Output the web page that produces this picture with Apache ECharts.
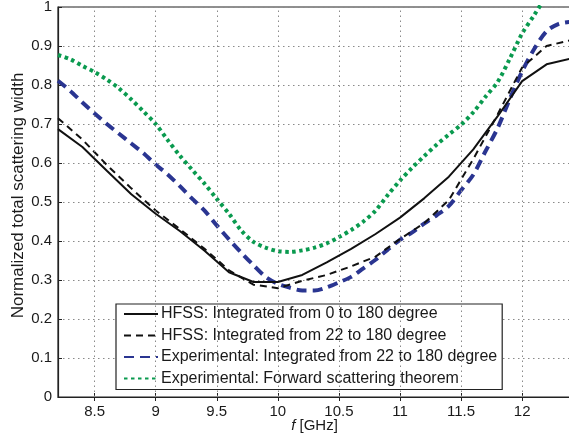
<!DOCTYPE html>
<html><head><meta charset="utf-8">
<script src="https://cdn.jsdelivr.net/npm/echarts@6/dist/echarts.min.js"></script>
<style>html,body{margin:0;padding:0;background:#fff}#c{width:569px;height:438px}</style>
</head><body><div id="c"></div>
<script>
var xTicks = [8.5, 9, 9.5, 10, 10.5, 11, 11.5, 12];
var yTicks = [0, 0.1, 0.2, 0.3, 0.4, 0.5, 0.6, 0.7, 0.8, 0.9, 1];
var seriesNames = [
  'HFSS: Integrated from 0 to 180 degree',
  'HFSS: Integrated from 22 to 180 degree',
  'Experimental: Integrated from 22 to 180 degree',
  'Experimental: Forward scattering theorem'
];
var fHfss = [8.2,8.4,8.6,8.8,9.0,9.2,9.4,9.6,9.8,10.0,10.2,10.4,10.6,10.8,11.0,11.2,11.4,11.6,11.8,12.0,12.2,12.4];
var hfss0 = [0.687,0.641,0.58,0.52,0.47,0.425,0.375,0.32,0.295,0.295,0.313,0.345,0.38,0.418,0.46,0.51,0.565,0.635,0.72,0.81,0.853,0.868];
var hfss22 = [0.715,0.66,0.595,0.535,0.478,0.43,0.38,0.325,0.288,0.279,0.298,0.313,0.335,0.36,0.405,0.446,0.505,0.61,0.725,0.845,0.9,0.915];
var fExp = [8.2,8.3,8.4,8.5,8.6,8.7,8.8,8.9,9.0,9.1,9.2,9.3,9.4,9.5,9.6,9.7,9.8,9.9,10.0,10.1,10.2,10.3,10.4,10.5,10.6,10.7,10.8,10.9,11.0,11.1,11.2,11.3,11.4,11.5,11.6,11.7,11.8,11.9,12.0,12.1,12.2,12.3,12.4];
var exp22 = [0.811,0.785,0.755,0.727,0.700,0.675,0.650,0.625,0.596,0.570,0.540,0.508,0.478,0.440,0.404,0.370,0.338,0.308,0.290,0.280,0.273,0.273,0.281,0.294,0.308,0.330,0.352,0.378,0.403,0.422,0.445,0.466,0.490,0.530,0.570,0.630,0.690,0.765,0.835,0.893,0.938,0.957,0.962];
var fFwd = [8.2,8.3,8.4,8.5,8.6,8.7,8.8,8.9,9.0,9.1,9.2,9.3,9.4,9.5,9.6,9.7,9.8,9.9,10.0,10.1,10.2,10.3,10.4,10.5,10.6,10.7,10.8,10.9,11.0,11.1,11.2,11.3,11.4,11.5,11.6,11.7,11.8,11.9,12.0,12.1,12.2];
var fwd = [0.877,0.866,0.849,0.833,0.814,0.791,0.763,0.732,0.700,0.658,0.618,0.582,0.547,0.508,0.470,0.427,0.398,0.383,0.374,0.372,0.376,0.383,0.394,0.410,0.428,0.450,0.478,0.518,0.555,0.588,0.618,0.647,0.673,0.698,0.730,0.770,0.808,0.868,0.932,0.980,1.03];

function pairs(xs, ys){ return xs.map(function(x,i){return [x, ys[i]];}); }

var chart = echarts.init(document.getElementById('c'));
var font = 'Liberation Sans, Arial, Helvetica, sans-serif';
var gridStyle = {color:'#8a8a8a', type:[1.5,3.5], width:1};
chart.setOption({
  animation:false,
  backgroundColor:'#fff',
  textStyle:{fontFamily:font},
  grid:{left:58, top:7, right:-2, bottom:41, outerBoundsMode:'none', containLabel:false,
        show:true, borderColor:'#222', borderWidth:1.2, backgroundColor:'transparent'},
  legend:{
    orient:'vertical', left:116, top:304,
    backgroundColor:'#fff', borderColor:'#222', borderWidth:1.2,
    padding:[2,5,3,7], itemGap:5.5, itemWidth:34, itemHeight:14,
    itemStyle:{opacity:0},
    textStyle:{fontSize:16, lineHeight:16, color:'#1a1a1a', fontFamily:font, padding:[0,0,0,-2]},
    data:seriesNames
  },
  xAxis:[{
    type:'value', min:8.2, max:12.4,
    axisLine:{show:true, onZero:false, lineStyle:{color:'#222', width:1.2}},
    axisTick:{show:true, inside:true, length:4, lineStyle:{color:'#222'}, customValues:xTicks},
    axisLabel:{fontSize:15, color:'#1a1a1a', margin:7, customValues:xTicks, formatter:function(v){return String(v);}},
    splitLine:{show:false},
    name:'{i|f} [GHz]', nameLocation:'middle', nameGap:21, nameMoveOverlap:false,
    nameTextStyle:{fontSize:15, color:'#1a1a1a', rich:{i:{fontStyle:'italic', fontSize:15, color:'#1a1a1a'}}}
  },{
    type:'value', min:8.2, max:12.4, position:'top',
    axisLine:{show:false}, axisLabel:{show:false}, splitLine:{show:false},
    axisTick:{show:true, inside:true, length:4, lineStyle:{color:'#222'}, customValues:xTicks}
  }],
  yAxis:{
    type:'value', min:0, max:1, interval:0.1,
    axisLine:{show:true, lineStyle:{color:'#222', width:1.2}},
    axisTick:{show:true, inside:true, length:4, lineStyle:{color:'#222'}},
    axisLabel:{fontSize:15, color:'#1a1a1a', margin:6, formatter:function(v){return v===0?'0':(v===1?'1':v.toFixed(1));}},
    splitLine:{show:true, lineStyle:gridStyle},
    name:'Normalized total scattering width', nameLocation:'middle', nameGap:31, nameMoveOverlap:false,
    nameTextStyle:{fontSize:17, color:'#1a1a1a', padding:[0,0,0,13]}
  },
  series:[
    {name:'grid', type:'line', data:[], z:1, silent:true,
     markLine:{silent:true, symbol:['none','none'], label:{show:false}, animation:false,
       lineStyle:gridStyle,
       data:xTicks.map(function(v){return {xAxis:v};})}},
    {name:seriesNames[0], type:'line', data:pairs(fHfss,hfss0), symbol:'none', clip:true,
     lineStyle:{color:'#111', width:2}, itemStyle:{color:'#111'}, z:5},
    {name:seriesNames[1], type:'line', data:pairs(fHfss,hfss22), symbol:'none', clip:true,
     lineStyle:{color:'#111', width:2, type:[7,5]}, itemStyle:{color:'#111'}, z:4},
    {name:seriesNames[2], type:'line', data:pairs(fExp,exp22), symbol:'none', smooth:0.3, clip:true,
     lineStyle:{color:'#2a3591', width:4, type:[10,6]}, itemStyle:{color:'#2a3591'}, z:3},
    {name:seriesNames[3], type:'line', data:pairs(fFwd,fwd), symbol:'none', smooth:0.3, clip:true,
     lineStyle:{color:'#0a9a4f', width:4, type:[3.5,3.5]}, itemStyle:{color:'#0a9a4f'}, z:2}
  ]
});
</script></body></html>
